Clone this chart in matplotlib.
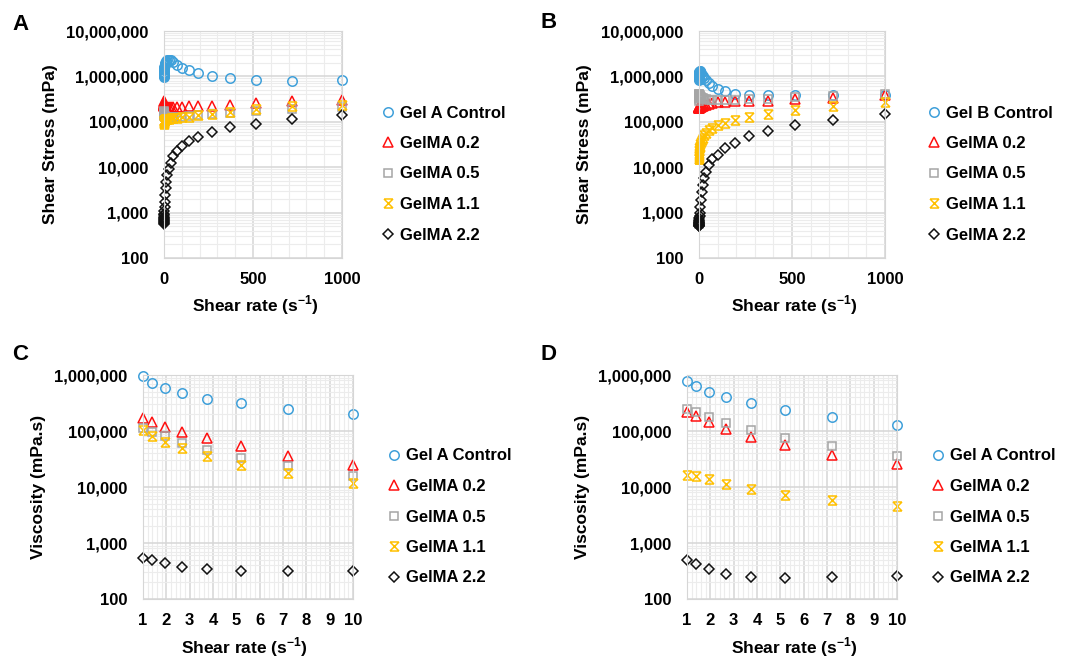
import matplotlib
matplotlib.use("Agg")
import matplotlib.pyplot as plt
import numpy as np
from matplotlib.path import Path
from matplotlib.ticker import LogLocator, MultipleLocator, FuncFormatter, NullFormatter

plt.rcParams['font.family'] = ['Liberation Sans', 'DejaVu Sans']
plt.rcParams['font.weight'] = 'bold'
plt.rcParams['mathtext.fontset'] = 'custom'
plt.rcParams['mathtext.rm'] = 'Liberation Sans:bold'
plt.rcParams['mathtext.bf'] = 'Liberation Sans:bold'

# ---- data ----
series_names_A = ['Gel A Control', 'GelMA 0.2', 'GelMA 0.5', 'GelMA 1.1', 'GelMA 2.2']
series_names_B = ['Gel B Control', 'GelMA 0.2', 'GelMA 0.5', 'GelMA 1.1', 'GelMA 2.2']

# shear rate sweep for stress plots (s^-1)
rate_sweep = [0.1, 0.139, 0.193, 0.268, 0.373, 0.518, 0.72, 1.0, 1.39, 1.93,
              2.68, 3.73, 5.18, 7.2, 10, 13.9, 19.3, 26.8, 37.3, 51.8,
              72, 100, 139, 193, 268, 373, 518, 720, 1000]

# panel A, shear stress (mPa)
stress_A_ctrl = [9.5e5, 1.0e6, 1.05e6, 1.1e6, 1.15e6, 1.2e6, 1.28e6, 1.35e6, 1.45e6, 1.55e6,
                 1.65e6, 1.75e6, 1.85e6, 1.95e6, 2.05e6, 2.15e6, 2.25e6, 2.3e6, 2.25e6, 2.05e6,
                 1.8e6, 1.55e6, 1.4e6, 1.18e6, 1.03e6, 9.0e5, 8.4e5, 8.1e5, 8.2e5]
stress_A_02 = [2.8e5, 2.7e5, 2.6e5, 2.5e5, 2.45e5, 2.4e5, 2.35e5, 2.3e5, 2.25e5, 2.2e5,
               2.2e5, 2.15e5, 2.1e5, 2.1e5, 2.1e5, 2.1e5, 2.1e5, 2.1e5, 2.1e5, 2.1e5,
               2.15e5, 2.15e5, 2.2e5, 2.2e5, 2.25e5, 2.4e5, 2.6e5, 2.8e5, 3.0e5]
stress_A_05 = [1.7e5, 1.65e5, 1.6e5, 1.55e5, 1.5e5, 1.5e5, 1.45e5, 1.45e5, 1.4e5, 1.4e5,
               1.35e5, 1.35e5, 1.3e5, 1.3e5, 1.3e5, 1.3e5, 1.3e5, 1.3e5, 1.3e5, 1.3e5,
               1.3e5, 1.3e5, 1.35e5, 1.4e5, 1.45e5, 1.55e5, 1.75e5, 1.9e5, 2.1e5]
stress_A_11 = [9.0e4, 9.2e4, 9.5e4, 9.8e4, 1.0e5, 1.02e5, 1.04e5, 1.06e5, 1.08e5, 1.1e5,
               1.1e5, 1.12e5, 1.12e5, 1.14e5, 1.15e5, 1.16e5, 1.17e5, 1.18e5, 1.19e5, 1.2e5,
               1.22e5, 1.25e5, 1.3e5, 1.38e5, 1.5e5, 1.65e5, 1.95e5, 2.2e5, 2.4e5]
stress_A_22 = [570, 590, 620, 650, 680, 720, 760, 820, 880, 950,
               1070, 1360, 1750, 2400, 3400, 4800, 6700, 9300, 1.25e4, 1.75e4,
               2.3e4, 2.9e4, 3.7e4, 4.7e4, 5.9e4, 7.5e4, 9.1e4, 1.14e5, 1.38e5]

# panel B, shear stress (mPa)
stress_B_ctrl = [8.5e5, 8.8e5, 9.2e5, 9.6e5, 1.0e6, 1.05e6, 1.1e6, 1.15e6, 1.2e6, 1.25e6,
                 1.28e6, 1.3e6, 1.3e6, 1.28e6, 1.2e6, 1.1e6, 1.0e6, 9.2e5, 8.2e5, 7.1e5,
                 6.0e5, 5.4e5, 4.8e5, 4.2e5, 3.8e5, 3.8e5, 3.9e5, 3.8e5, 3.96e5]
stress_B_02 = [2.0e5, 2.0e5, 2.05e5, 2.05e5, 2.1e5, 2.1e5, 2.1e5, 2.1e5, 2.1e5, 2.1e5,
               2.1e5, 2.1e5, 2.1e5, 2.15e5, 2.15e5, 2.2e5, 2.25e5, 2.3e5, 2.4e5, 2.5e5,
               2.6e5, 2.7e5, 2.75e5, 2.8e5, 2.8e5, 2.9e5, 3.1e5, 3.4e5, 3.8e5]
stress_B_05 = [550, 700, 2.9e5, 3.1e5, 3.3e5, 3.5e5, 3.7e5, 3.9e5, 4.0e5, 4.0e5,
               3.9e5, 3.8e5, 3.7e5, 3.6e5, 3.5e5, 3.4e5, 3.3e5, 3.2e5, 3.1e5, 3.05e5,
               3.0e5, 3.0e5, 3.0e5, 3.0e5, 3.1e5, 3.2e5, 3.5e5, 3.7e5, 4.0e5]
stress_B_11 = [1.5e4, 1.55e4, 1.6e4, 1.7e4, 1.8e4, 1.9e4, 2.0e4, 2.1e4, 2.25e4, 2.4e4,
               2.6e4, 2.8e4, 3.0e4, 3.3e4, 3.6e4, 4.0e4, 4.5e4, 5.0e4, 5.7e4, 6.5e4,
               7.3e4, 8.4e4, 9.5e4, 1.1e5, 1.28e5, 1.46e5, 1.8e5, 2.2e5, 2.7e5]
stress_B_22 = [500, 510, 520, 540, 560, 580, 600, 630, 660, 700,
               750, 850, 1000, 1350, 1900, 2900, 4000, 5700, 8000, 1.1e4,
               1.5e4, 1.9e4, 2.6e4, 3.4e4, 4.8e4, 6.2e4, 8.4e4, 1.08e5, 1.46e5]

# viscosity plots
rate_low = [1, 1.39, 1.93, 2.68, 3.73, 5.18, 7.2, 10]
visc_C_ctrl = [9.6e5, 7.3e5, 5.8e5, 4.7e5, 3.8e5, 3.1e5, 2.5e5, 2.0e5]
visc_C_02 = [1.68e5, 1.43e5, 1.16e5, 9.5e4, 7.6e4, 5.3e4, 3.6e4, 2.5e4]
visc_C_05 = [1.15e5, 9.7e4, 8.1e4, 6.2e4, 4.6e4, 3.3e4, 2.4e4, 1.6e4]
visc_C_11 = [1.04e5, 8.1e4, 6.4e4, 4.9e4, 3.6e4, 2.5e4, 1.8e4, 1.2e4]
visc_C_22 = [540, 490, 440, 370, 340, 320, 320, 320]

visc_D_ctrl = [7.9e5, 6.4e5, 4.9e5, 4.0e5, 3.1e5, 2.4e5, 1.8e5, 1.28e5]
visc_D_02 = [2.2e5, 1.85e5, 1.43e5, 1.09e5, 7.9e4, 5.6e4, 3.8e4, 2.6e4]
visc_D_05 = [2.5e5, 2.2e5, 1.75e5, 1.37e5, 1.04e5, 7.6e4, 5.3e4, 3.6e4]
visc_D_11 = [1.66e4, 1.6e4, 1.4e4, 1.13e4, 9.2e3, 7.3e3, 5.9e3, 4.5e3]
visc_D_22 = [490, 420, 340, 280, 250, 240, 250, 260]

# ---- styles ----
star = Path([(-1, 1), (1, -1), (-1, -1), (1, 1), (-0.9, 1), (0.9, 1), (-0.9, -1), (0.9, -1)],
            [Path.MOVETO, Path.LINETO, Path.MOVETO, Path.LINETO,
             Path.MOVETO, Path.LINETO, Path.MOVETO, Path.LINETO])
styles = [
    dict(marker='o', color='#3FA0DA', ms=6.8),
    dict(marker='^', color='#FF1010', ms=7.0),
    dict(marker='s', color='#A5A5A5', ms=6.2),
    dict(marker=star, color='#FFC000', ms=6.5),
    dict(marker='D', color='#111111', ms=4.8),
]

W, H = 1077, 658
fig = plt.figure(figsize=(W / 100, H / 100), dpi=100)


def fx(x):
    return x / W


def fy(y):
    return 1 - y / H


def make_panel(rect, xs, ys_list, names, kind, letter, letter_xy, ylabel, ylabel_x,
               xlabel_xy, leg_xy):
    l, t, r, b = rect
    ax = fig.add_axes([fx(l), fy(b), fx(r - l), (b - t) / H])
    for ys, st, name in zip(ys_list, styles, names):
        ax.plot(xs, ys, linestyle='none', marker=st['marker'], markersize=st['ms'],
                markeredgecolor=st['color'], markerfacecolor='none',
                markeredgewidth=1.1, label=name, clip_on=False)
    ax.set_yscale('log')
    if kind == 'stress':
        ax.set_xlim(0, 1000)
        ax.set_ylim(100, 1e7)
        ax.xaxis.set_major_locator(MultipleLocator(500))
        ax.xaxis.set_minor_locator(MultipleLocator(100))
    else:
        ax.set_xlim(1, 10)
        ax.set_ylim(100, 1e6)
        ax.xaxis.set_major_locator(MultipleLocator(1))
        ax.xaxis.set_minor_locator(MultipleLocator(0.2))
    ax.yaxis.set_major_locator(LogLocator(base=10, numticks=10))
    ax.yaxis.set_minor_locator(LogLocator(base=10, subs=np.arange(2, 10), numticks=20))
    ax.yaxis.set_minor_formatter(NullFormatter())
    ax.yaxis.set_major_formatter(FuncFormatter(lambda v, p: '{:,.0f}'.format(v)))
    ax.grid(which='major', color='#d6d6d6', linewidth=1.1)
    ax.grid(which='minor', color='#ececec', linewidth=0.8)
    ax.set_axisbelow(True)
    for s in ax.spines.values():
        s.set_color('#d6d6d6')
    ax.tick_params(which='both', length=0)
    ax.tick_params(axis='y', pad=11, labelsize=12)
    ax.tick_params(axis='x', pad=10, labelsize=12)
    for lab in ax.get_xticklabels() + ax.get_yticklabels():
        lab.set_fontweight('bold')

    fig.text(fx(letter_xy[0]), fy(letter_xy[1]), letter, fontsize=16, fontweight='bold',
             ha='left', va='center')
    fig.text(fx(ylabel_x), fy((t + b) / 2), ylabel, rotation=90, fontsize=12.5,
             fontweight='bold', ha='center', va='center')
    fig.text(fx(xlabel_xy[0]), fy(xlabel_xy[1]), r'Shear rate (s$^{\mathbf{-1}}$)',
             fontsize=12.5, fontweight='bold', ha='center', va='center')
    ax.legend(loc='center left', bbox_to_anchor=(fx(leg_xy[0]), fy(leg_xy[1])),
              bbox_transform=fig.transFigure, frameon=False, fontsize=12,
              handlelength=0.7, handletextpad=0.35, labelspacing=0.93,
              borderpad=0, borderaxespad=0, numpoints=1,
              prop={'weight': 'bold', 'size': 12})
    return ax


make_panel((164, 31, 342, 258), rate_sweep,
           [stress_A_ctrl, stress_A_02, stress_A_05, stress_A_11, stress_A_22],
           series_names_A, 'stress', 'A', (12, 25), 'Shear Stress (mPa)', 51,
           (255, 305), (382, 174))
make_panel((699, 31, 885, 258), rate_sweep,
           [stress_B_ctrl, stress_B_02, stress_B_05, stress_B_11, stress_B_22],
           series_names_B, 'stress', 'B', (540, 23), 'Shear Stress (mPa)', 585,
           (794, 305), (928, 174))
make_panel((143, 375, 353, 599), rate_low,
           [visc_C_ctrl, visc_C_02, visc_C_05, visc_C_11, visc_C_22],
           series_names_A, 'visc', 'C', (12, 354), 'Viscosity (mPa.s)', 39,
           (244, 647), (388, 517))
make_panel((687, 375, 897, 599), rate_low,
           [visc_D_ctrl, visc_D_02, visc_D_05, visc_D_11, visc_D_22],
           series_names_A, 'visc', 'D', (540, 354), 'Viscosity (mPa.s)', 583,
           (794, 647), (932, 517))

fig.savefig('out.png', dpi=100, facecolor='white')
